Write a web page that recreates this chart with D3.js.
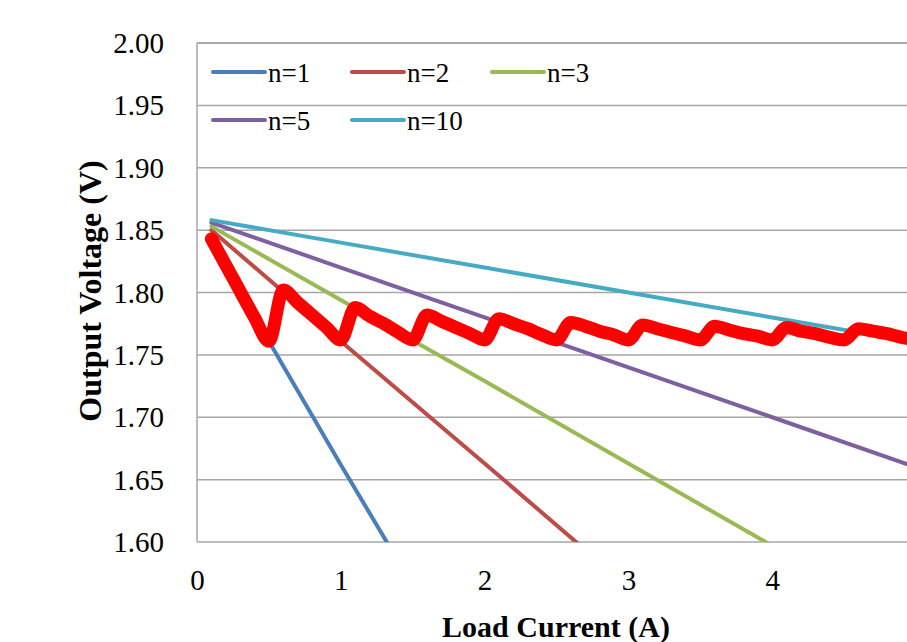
<!DOCTYPE html>
<html>
<head>
<meta charset="utf-8">
<script src="https://cdn.jsdelivr.net/npm/d3@7"></script>
<style>
  body { margin: 0; background: #fff; }
  text { font-family: "Liberation Serif", "Times New Roman", serif; fill: #000; }
</style>
</head>
<body>
<div id="chart"></div>
<script>
// values
const yTicks = [1.60, 1.65, 1.70, 1.75, 1.80, 1.85, 1.90, 1.95, 2.00];
const xTicks = [0, 1, 2, 3, 4];

const n1 = [[0.1, 1.840], [1.0, 1.662], [1.5, 1.565]];
const n2 = [[0.1, 1.850], [1.0, 1.761], [2.0, 1.663], [3.0, 1.564]];
const n3 = [[0.1, 1.853], [1.0, 1.794], [2.0, 1.729], [3.0, 1.663], [4.0, 1.597]];
const n5 = [[0.1, 1.856], [1.0, 1.820], [2.0, 1.780], [3.0, 1.740], [4.0, 1.700], [5.0, 1.660]];
const n10 = [[0.1, 1.858], [1.0, 1.840], [2.0, 1.820], [3.0, 1.800], [4.0, 1.780], [5.0, 1.760]];

const redCurrent = [0.1, 0.2, 0.3, 0.4, 0.5, 0.6, 0.7, 0.8, 0.9, 1.0,
  1.1, 1.2, 1.3, 1.4, 1.5, 1.6, 1.7, 1.8, 1.9, 2.0,
  2.1, 2.2, 2.3, 2.4, 2.5, 2.6, 2.7, 2.8, 2.9, 3.0,
  3.1, 3.2, 3.3, 3.4, 3.5, 3.6, 3.7, 3.8, 3.9, 4.0,
  4.1, 4.2, 4.3, 4.4, 4.5, 4.6, 4.7, 4.8, 4.9, 5.0];
const redVoltage = [1.843, 1.822, 1.801, 1.780, 1.761, 1.802, 1.792, 1.782, 1.772, 1.762,
  1.788, 1.781, 1.775, 1.768, 1.762, 1.782, 1.777, 1.772, 1.767, 1.762,
  1.779, 1.775, 1.771, 1.766, 1.762, 1.776, 1.773, 1.769, 1.766, 1.762,
  1.774, 1.771, 1.768, 1.765, 1.762, 1.773, 1.770, 1.767, 1.765, 1.762,
  1.772, 1.769, 1.767, 1.764, 1.762, 1.771, 1.769, 1.767, 1.764, 1.762];

const series = [
  { name: 'n=1', color: '#4a7ebb', pts: n1 },
  { name: 'n=2', color: '#be4b48', pts: n2 },
  { name: 'n=3', color: '#98b954', pts: n3 },
  { name: 'n=5', color: '#7d60a0', pts: n5 },
  { name: 'n=10', color: '#46aac5', pts: n10 }
];

const W = 907, H = 642;
const plotL = 197, plotT = 43, plotR = 916, plotB = 542;
const serif = '"Liberation Serif", "Times New Roman", serif';

const svg = d3.select('#chart').append('svg')
  .attr('width', W)
  .attr('height', H);

const x = d3.scaleLinear().domain([0, 5]).range([plotL, plotR]);
const y = d3.scaleLinear().domain([1.6, 2.0]).range([plotB, plotT]);

svg.append('clipPath').attr('id', 'plot')
  .append('rect')
  .attr('x', plotL).attr('y', plotT)
  .attr('width', plotR - plotL).attr('height', plotB - plotT);

// gridlines
svg.append('g')
  .selectAll('line')
  .data(yTicks)
  .enter().append('line')
  .attr('x1', plotL).attr('x2', plotR)
  .attr('y1', d => y(d)).attr('y2', d => y(d))
  .attr('stroke', '#a6a6a6')
  .attr('stroke-width', 1.5);

// left axis line
svg.append('line')
  .attr('x1', plotL).attr('x2', plotL)
  .attr('y1', plotT).attr('y2', plotB)
  .attr('stroke', '#a6a6a6').attr('stroke-width', 1.5);

// y tick labels
const yAxis = svg.append('g')
  .attr('transform', `translate(${plotL},0)`)
  .call(d3.axisLeft(y).tickValues(yTicks).tickFormat(d3.format('.2f')).tickSize(0).tickPadding(33));
yAxis.select('.domain').remove();
yAxis.selectAll('text')
  .attr('font-size', 29)
  .attr('font-family', serif)
  .attr('dy', '0.33em');

// x tick labels
const xAxis = svg.append('g')
  .attr('transform', `translate(0,${plotB})`)
  .call(d3.axisBottom(x).tickValues(xTicks).tickFormat(d3.format('d')).tickSize(0).tickPadding(27));
xAxis.select('.domain').remove();
xAxis.selectAll('text')
  .attr('font-size', 29)
  .attr('font-family', serif);

// axis titles
svg.append('text')
  .attr('x', 556).attr('y', 637)
  .attr('text-anchor', 'middle')
  .attr('font-family', serif)
  .attr('font-size', 30)
  .attr('font-weight', 'bold')
  .text('Load Current (A)');

svg.append('text')
  .attr('transform', 'translate(101,291) rotate(-90)')
  .attr('text-anchor', 'middle')
  .attr('font-family', serif)
  .attr('font-size', 32)
  .attr('font-weight', 'bold')
  .text('Output Voltage (V)');

// series lines
const line = d3.line()
  .x(d => x(d[0]))
  .y(d => y(d[1]));

const plot = svg.append('g').attr('clip-path', 'url(#plot)');

plot.selectAll('path.series')
  .data(series)
  .enter().append('path')
  .attr('class', 'series')
  .attr('d', d => line(d.pts))
  .attr('fill', 'none')
  .attr('stroke', d => d.color)
  .attr('stroke-width', 4)
  .attr('stroke-linecap', 'round');

// smoothed like excel, without the overshoot spikes
const redLine = d3.line()
  .x((d, i) => x(redCurrent[i]))
  .y(d => y(d))
  .curve(d3.curveMonotoneX);

plot.append('path')
  .attr('d', redLine(redVoltage))
  .attr('fill', 'none')
  .attr('stroke', '#ff0000')
  .attr('stroke-width', 13)
  .attr('stroke-linejoin', 'round')
  .attr('stroke-linecap', 'round');

// top border
svg.append('line')
  .attr('x1', plotL).attr('x2', plotR)
  .attr('y1', plotT).attr('y2', plotT)
  .attr('stroke', '#a6a6a6').attr('stroke-width', 1.5);

// legend
const legendPos = [[213, 72], [352, 72], [492, 72], [213, 120], [352, 120]];
const legend = svg.append('g')
  .selectAll('g')
  .data(series)
  .enter().append('g')
  .attr('transform', (d, i) => `translate(${legendPos[i][0]},${legendPos[i][1]})`);

legend.append('line')
  .attr('x1', 0).attr('x2', 52)
  .attr('y1', 0).attr('y2', 0)
  .attr('stroke', d => d.color)
  .attr('stroke-width', 4)
  .attr('stroke-linecap', 'round');

legend.append('text')
  .attr('x', 55).attr('y', 10)
  .attr('font-family', serif)
  .attr('font-size', 27)
  .text(d => d.name);
</script>
</body>
</html>
